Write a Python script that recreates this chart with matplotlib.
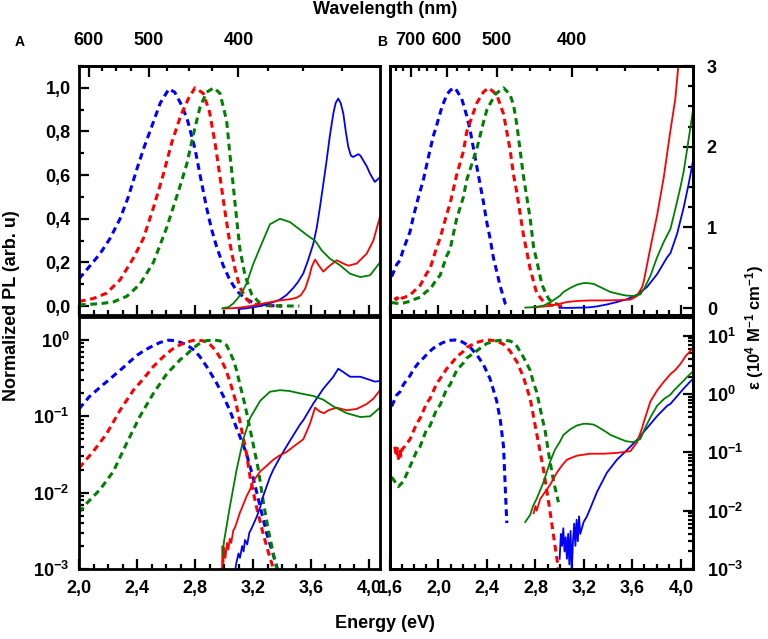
import numpy as np
import matplotlib
matplotlib.use("Agg")
import matplotlib.pyplot as plt
from matplotlib.ticker import MultipleLocator, FixedLocator, FuncFormatter, LogLocator, NullFormatter

# ---------------- data ----------------
# Panel A, PL (dashed, normalised) - used in linear and log panels
pl_a_blue_e = [2.00, 2.07, 2.145, 2.214, 2.283, 2.34, 2.40, 2.45, 2.50, 2.56, 2.62, 2.66, 2.70, 2.745,
               2.80, 2.835, 2.88, 2.915, 2.95, 2.995, 3.04, 3.087, 3.133, 3.16, 3.20, 3.25, 3.295, 3.36, 3.40]
pl_a_blue = [0.125, 0.18, 0.24, 0.31, 0.40, 0.50, 0.63, 0.73, 0.82, 0.93, 0.995, 0.98, 0.93, 0.86,
             0.72, 0.60, 0.45, 0.35, 0.27, 0.185, 0.12, 0.07, 0.042, 0.03, 0.016, 0.0065, 0.0029, 0.00115, 0.0006]

pl_a_red_e = [2.00, 2.10, 2.19, 2.283, 2.375, 2.444, 2.513, 2.58, 2.64, 2.70, 2.754, 2.80, 2.857, 2.90,
              2.94, 2.975, 3.01, 3.04, 3.076, 3.11, 3.156, 3.18, 3.225, 3.27, 3.317, 3.35, 3.40]
pl_a_red = [0.021, 0.035, 0.059, 0.12, 0.22, 0.31, 0.45, 0.60, 0.75, 0.87, 0.95, 1.0, 0.975, 0.89,
            0.74, 0.58, 0.42, 0.29, 0.17, 0.085, 0.032, 0.016, 0.0064, 0.0029, 0.0014, 0.0009, 0.0005]

pl_a_green_e = [2.00, 2.06, 2.145, 2.237, 2.33, 2.42, 2.513, 2.605, 2.697, 2.743, 2.79, 2.834, 2.88, 2.93,
                2.972, 3.018, 3.04, 3.064, 3.087, 3.11, 3.145, 3.19, 3.237, 3.27, 3.306, 3.34, 3.37, 3.42, 3.52]
pl_a_green = [0.0055, 0.0075, 0.011, 0.019, 0.045, 0.10, 0.20, 0.36, 0.55, 0.65, 0.79, 0.91, 0.98, 1.0,
              0.975, 0.85, 0.70, 0.55, 0.40, 0.26, 0.14, 0.055, 0.02, 0.0078, 0.0032, 0.0016, 0.0009, 0.0004, 0.0003]

# Panel A, absorption (solid), linear panel
abs_a_lin_blue_e = [3.10, 3.156, 3.25, 3.34, 3.386, 3.43, 3.478, 3.51, 3.547, 3.58, 3.616, 3.64, 3.662, 3.685,
                    3.708, 3.73, 3.754, 3.77, 3.788, 3.805, 3.823, 3.84, 3.857, 3.875, 3.89, 3.91, 3.926,
                    3.94, 3.96, 3.985, 4.007, 4.04, 4.076]
abs_a_lin_blue = [-0.014, -0.01, 0.0, 0.018, 0.03, 0.05, 0.083, 0.11, 0.15, 0.21, 0.286, 0.36, 0.454, 0.56,
                  0.668, 0.78, 0.882, 0.93, 0.951, 0.93, 0.882, 0.80, 0.73, 0.69, 0.683, 0.69, 0.696,
                  0.69, 0.668, 0.64, 0.607, 0.569, 0.59]

abs_a_lin_red_e = [2.99, 3.10, 3.20, 3.27, 3.386, 3.46, 3.50, 3.53, 3.56, 3.59, 3.605, 3.628, 3.65, 3.685,
                   3.72, 3.777, 3.823, 3.857, 3.915, 3.984, 4.03, 4.076]
abs_a_lin_red = [-0.012, -0.008, 0.002, 0.012, 0.026, 0.032, 0.038, 0.05, 0.08, 0.14, 0.18, 0.213, 0.19, 0.158,
                 0.18, 0.21, 0.195, 0.185, 0.195, 0.24, 0.30, 0.41]

abs_a_lin_green_e = [2.99, 3.03, 3.064, 3.10, 3.133, 3.156, 3.20, 3.25, 3.317, 3.386, 3.455, 3.524, 3.593,
                     3.628, 3.674, 3.731, 3.80, 3.87, 3.94, 4.007, 4.076]
abs_a_lin_green = [-0.01, -0.005, 0.012, 0.04, 0.075, 0.104, 0.19, 0.27, 0.375, 0.40, 0.385, 0.35, 0.315,
                   0.30, 0.255, 0.217, 0.187, 0.148, 0.133, 0.141, 0.20]

# Panel A, absorption (solid), log panel
abs_a_log_blue_e = [3.07, 3.085, 3.10, 3.11, 3.125, 3.135, 3.145, 3.16, 3.175, 3.19, 3.225, 3.25, 3.27, 3.317,
                    3.34, 3.386, 3.455, 3.524, 3.547, 3.616, 3.685, 3.754, 3.788, 3.823, 3.87, 3.94, 4.007,
                    4.04, 4.076]
abs_a_log_blue = [0.0008, 0.0012, 0.0016, 0.0014, 0.002, 0.0017, 0.0024, 0.0021, 0.003, 0.0034, 0.0048, 0.0065,
                  0.009, 0.016, 0.02, 0.029, 0.048, 0.078, 0.089, 0.147, 0.23, 0.33, 0.42, 0.38, 0.33, 0.33,
                  0.30, 0.285, 0.29]

abs_a_log_red_e = [2.985, 2.99, 2.995, 3.00, 3.01, 3.02, 3.03, 3.04, 3.05, 3.064, 3.076, 3.09, 3.11, 3.122,
                   3.156, 3.18, 3.20, 3.25, 3.30, 3.34, 3.386, 3.43, 3.478, 3.547, 3.593, 3.628, 3.662,
                   3.69, 3.72, 3.777, 3.846, 3.915, 3.984, 4.03, 4.076]
abs_a_log_red = [0.0008, 0.002, 0.0012, 0.0019, 0.0014, 0.0022, 0.0018, 0.0025, 0.0022, 0.0032, 0.0035, 0.0042,
                 0.0055, 0.0062, 0.009, 0.011, 0.014, 0.019, 0.023, 0.027, 0.031, 0.034, 0.040, 0.05, 0.08,
                 0.13, 0.115, 0.11, 0.12, 0.13, 0.12, 0.125, 0.145, 0.17, 0.22]

abs_a_log_green_e = [2.99, 3.00, 3.04, 3.087, 3.133, 3.18, 3.25, 3.317, 3.386, 3.45, 3.524, 3.616, 3.685,
                     3.754, 3.846, 3.94, 4.007, 4.076]
abs_a_log_green = [0.0015, 0.0023, 0.0065, 0.02, 0.05, 0.095, 0.16, 0.21, 0.22, 0.215, 0.20, 0.185, 0.165,
                   0.135, 0.11, 0.098, 0.10, 0.13]

# Panel B, PL (dashed, normalised)
pl_b_blue_e = [1.614, 1.655, 1.683, 1.71, 1.765, 1.793, 1.835, 1.876, 1.92, 1.958, 1.986, 2.027, 2.07, 2.10,
               2.137, 2.192, 2.234, 2.26, 2.316, 2.37, 2.40, 2.426, 2.454, 2.48, 2.51, 2.537, 2.55, 2.564]
pl_b_blue = [0.135, 0.19, 0.21, 0.26, 0.34, 0.41, 0.50, 0.58, 0.69, 0.78, 0.83, 0.91, 0.97, 0.99,
             1.0, 0.95, 0.87, 0.81, 0.64, 0.48, 0.38, 0.31, 0.22, 0.16, 0.09, 0.04, 0.013, 0.004]

pl_b_red_e = [1.64, 1.65, 1.66, 1.67, 1.683, 1.69, 1.70, 1.72, 1.765, 1.82, 1.85, 1.903, 1.93, 1.986, 2.013,
              2.068, 2.096, 2.15, 2.206, 2.234, 2.316, 2.37, 2.413, 2.48, 2.537, 2.59, 2.62, 2.647, 2.70,
              2.757, 2.81, 2.867, 2.92, 2.96, 2.99, 3.02]
pl_b_red = [0.04, 0.03, 0.038, 0.028, 0.035, 0.03, 0.037, 0.040, 0.05, 0.08, 0.095, 0.15, 0.17, 0.27, 0.31,
            0.42, 0.47, 0.60, 0.71, 0.80, 0.93, 0.98, 1.0, 0.97, 0.88, 0.72, 0.60, 0.52, 0.33,
            0.17, 0.06, 0.02, 0.0058, 0.0021, 0.001, 0.0004]

pl_b_green_e = [1.614, 1.669, 1.71, 1.765, 1.82, 1.848, 1.903, 1.93, 1.986, 2.013, 2.068, 2.096, 2.15, 2.206,
                2.234, 2.316, 2.37, 2.40, 2.468, 2.537, 2.59, 2.62, 2.647, 2.70, 2.757, 2.785, 2.81, 2.853,
                2.88, 2.91, 2.95, 2.99]
pl_b_green = [0.016, 0.012, 0.014, 0.022, 0.035, 0.040, 0.068, 0.075, 0.125, 0.14, 0.23, 0.26, 0.40, 0.50,
              0.58, 0.72, 0.84, 0.90, 0.97, 1.0, 0.97, 0.92, 0.83, 0.60, 0.40, 0.27, 0.21, 0.10,
              0.065, 0.032, 0.014, 0.0075]

# Panel B, molar absorption coefficient (solid, 10^4 M^-1 cm^-1)
eps_b_blue_e = [3.00, 3.01, 3.02, 3.03, 3.04, 3.05, 3.06, 3.07, 3.08, 3.09, 3.10, 3.11, 3.12, 3.13, 3.14,
                3.15, 3.16, 3.17, 3.198, 3.225, 3.253, 3.308, 3.39, 3.473, 3.556, 3.639, 3.72, 3.804,
                3.887, 3.914, 3.969, 4.024, 4.066, 4.10]
eps_b_blue = [0.0015, 0.004, 0.0025, 0.005, 0.002, 0.0035, 0.0015, 0.004, 0.0012, 0.0045, 0.0009, 0.003,
              0.006, 0.0025, 0.007, 0.003, 0.008, 0.004, 0.0064, 0.008, 0.011, 0.021, 0.045, 0.075, 0.11,
              0.165, 0.26, 0.42, 0.63, 0.68, 0.92, 1.25, 1.55, 1.82]

eps_b_red_e = [2.785, 2.80, 2.81, 2.84, 2.88, 2.922, 2.977, 3.02, 3.06, 3.143, 3.253, 3.363, 3.47, 3.584,
               3.639, 3.68, 3.694, 3.749, 3.804, 3.859, 3.914, 3.955, 3.997, 4.04, 4.08, 4.10]
eps_b_red = [0.009, 0.012, 0.010, 0.016, 0.021, 0.028, 0.045, 0.06, 0.075, 0.088, 0.095, 0.095, 0.098, 0.105,
             0.15, 0.26, 0.33, 0.75, 1.15, 1.62, 2.2, 2.6, 3.3, 4.5, 5.5, 6.3]

eps_b_green_e = [2.716, 2.757, 2.78, 2.81, 2.867, 2.922, 2.96, 3.00, 3.032, 3.088, 3.143, 3.198, 3.225, 3.28,
                 3.308, 3.39, 3.418, 3.50, 3.55, 3.61, 3.666, 3.70, 3.749, 3.804, 3.859, 3.914, 3.942,
                 3.997, 4.024, 4.05, 4.10]
eps_b_green = [0.0064, 0.0085, 0.012, 0.016, 0.031, 0.07, 0.11, 0.15, 0.20, 0.25, 0.29, 0.31, 0.31, 0.30,
               0.28, 0.22, 0.20, 0.17, 0.155, 0.15, 0.17, 0.25, 0.40, 0.63, 0.82, 0.98, 1.15,
               1.50, 1.70, 1.95, 2.45]

wl_major_a = [600, 500, 400]
wl_major_b = [700, 600, 500, 400]
wl_minor = [775, 750, 725, 675, 650, 625, 575, 550, 525, 475, 450, 425, 375, 350, 325]

# ---------------- style ----------------
plt.rcParams['font.family'] = ['Liberation Sans', 'DejaVu Sans']
plt.rcParams['font.weight'] = 'bold'
plt.rcParams['mathtext.fontset'] = 'custom'
plt.rcParams['mathtext.rm'] = 'Liberation Sans:bold'
plt.rcParams['mathtext.it'] = 'Liberation Sans:bold'
plt.rcParams['mathtext.bf'] = 'Liberation Sans:bold'

BLUE, RED, GREEN = '#0000ff', '#ff0000', '#008000'
fs = 13
lw_frame = 2.0
dash_kw = dict(lw=2.2, dashes=(2.2, 1.5))
solid_kw = dict(lw=1.3)


def ev_to_nm(e):
    e = np.asarray(e, dtype=float)
    with np.errstate(divide='ignore', invalid='ignore'):
        return 1239.84 / e


def comma(v, pos):
    return f"{v:.1f}".replace('.', ',')


def power(v, pos):
    if v <= 0:
        return ''
    ex = int(round(np.log10(v)))
    return rf"$\mathbf{{10^{{{ex}}}}}$"


def style_frame(ax):
    for s in ax.spines.values():
        s.set_linewidth(lw_frame)
    ax.tick_params(which='both', direction='in', width=1.6, labelsize=fs)
    ax.tick_params(which='major', length=7.5)
    ax.tick_params(which='minor', length=3.5)


fig = plt.figure(figsize=(7.68, 6.39), dpi=100)
ax_a = fig.add_axes([0.1029, 0.5070, 0.3919, 0.3897])
ax_b = fig.add_axes([0.5078, 0.5070, 0.3945, 0.3897])
ax_c = fig.add_axes([0.1029, 0.1095, 0.3919, 0.3944])
ax_d = fig.add_axes([0.5078, 0.1095, 0.3945, 0.3944])
ax_b2 = ax_b.twinx()
ax_d2 = ax_d.twinx()

# ---- A, linear ----
ax_a.plot(pl_a_blue_e, pl_a_blue, color=BLUE, **dash_kw)
ax_a.plot(pl_a_red_e, pl_a_red, color=RED, **dash_kw)
ax_a.plot(pl_a_green_e, pl_a_green, color=GREEN, **dash_kw)
ax_a.plot(abs_a_lin_blue_e, abs_a_lin_blue, color=BLUE, **solid_kw)
ax_a.plot(abs_a_lin_red_e, abs_a_lin_red, color=RED, **solid_kw)
ax_a.plot(abs_a_lin_green_e, abs_a_lin_green, color=GREEN, **solid_kw)
ax_a.set_xlim(2.0, 4.076)
ax_a.set_ylim(-0.041, 1.10)

# ---- A, log ----
ax_c.plot(pl_a_blue_e, pl_a_blue, color=BLUE, **dash_kw)
ax_c.plot(pl_a_red_e, pl_a_red, color=RED, **dash_kw)
ax_c.plot(pl_a_green_e, pl_a_green, color=GREEN, **dash_kw)
ax_c.plot(abs_a_log_blue_e, abs_a_log_blue, color=BLUE, **solid_kw)
ax_c.plot(abs_a_log_red_e, abs_a_log_red, color=RED, **solid_kw)
ax_c.plot(abs_a_log_green_e, abs_a_log_green, color=GREEN, **solid_kw)
ax_c.set_yscale('log')
ax_c.set_xlim(2.0, 4.076)
ax_c.set_ylim(1e-3, 2.0)

# ---- B, linear ----
ax_b.plot(pl_b_blue_e, pl_b_blue, color=BLUE, **dash_kw)
ax_b.plot(pl_b_red_e, pl_b_red, color=RED, **dash_kw)
ax_b.plot(pl_b_green_e, pl_b_green, color=GREEN, **dash_kw)
ax_b2.plot(eps_b_blue_e, eps_b_blue, color=BLUE, **solid_kw)
ax_b2.plot(eps_b_red_e, eps_b_red, color=RED, **solid_kw)
ax_b2.plot(eps_b_green_e, eps_b_green, color=GREEN, **solid_kw)
ax_b.set_xlim(1.6, 4.1)
ax_b.set_ylim(-0.041, 1.10)
ax_b2.set_ylim(-0.086, 3.0)

# ---- B, log ----
ax_d.plot(pl_b_blue_e, pl_b_blue, color=BLUE, **dash_kw)
ax_d.plot(pl_b_red_e, pl_b_red, color=RED, **dash_kw)
ax_d.plot(pl_b_green_e, pl_b_green, color=GREEN, **dash_kw)
ax_d2.plot(eps_b_blue_e, eps_b_blue, color=BLUE, **solid_kw)
ax_d2.plot(eps_b_red_e, eps_b_red, color=RED, **solid_kw)
ax_d2.plot(eps_b_green_e, eps_b_green, color=GREEN, **solid_kw)
ax_d.set_yscale('log')
ax_d2.set_yscale('log')
ax_d.set_xlim(1.6, 4.1)
ax_d.set_ylim(1e-3, 2.0)
ax_d2.set_ylim(1e-3, 21)

# ---- ticks ----
for ax in (ax_a, ax_b, ax_c, ax_d, ax_b2, ax_d2):
    style_frame(ax)

for ax in (ax_a, ax_b, ax_c, ax_d):
    ax.xaxis.set_major_locator(MultipleLocator(0.4))
    ax.xaxis.set_minor_locator(MultipleLocator(0.1))
    ax.xaxis.set_major_formatter(FuncFormatter(comma))
    ax.tick_params(axis='x', which='both', top=False, pad=8)

for ax in (ax_a, ax_b):
    ax.tick_params(axis='x', labelbottom=False)

ax_a.yaxis.set_major_locator(MultipleLocator(0.2))
ax_a.yaxis.set_minor_locator(MultipleLocator(0.1))
ax_a.yaxis.set_major_formatter(FuncFormatter(comma))
ax_a.tick_params(axis='y', which='both', right=False, pad=6)

for ax in (ax_c, ax_d, ax_d2):
    ax.yaxis.set_major_locator(LogLocator(base=10, numticks=10))
    ax.yaxis.set_minor_locator(LogLocator(base=10, subs=np.arange(2, 10), numticks=10))
    ax.yaxis.set_major_formatter(FuncFormatter(power))
    ax.yaxis.set_minor_formatter(NullFormatter())
ax_c.tick_params(axis='y', which='both', right=False, pad=7)

for ax in (ax_b, ax_d):
    ax.tick_params(axis='y', which='both', left=False, right=False, labelleft=False)

ax_b2.yaxis.set_major_locator(MultipleLocator(1))
ax_b2.yaxis.set_minor_locator(MultipleLocator(0.25))
ax_b2.yaxis.set_major_formatter(FuncFormatter(lambda v, p: f"{v:.0f}"))
ax_b2.tick_params(axis='y', which='both', left=False, right=True, pad=10)
ax_d2.tick_params(axis='y', which='both', left=False, right=True, pad=10)

# wavelength axes on top
for ax, majors in ((ax_a, wl_major_a), (ax_b, wl_major_b)):
    sec = ax.secondary_xaxis('top', functions=(ev_to_nm, ev_to_nm))
    sec.xaxis.set_major_locator(FixedLocator(majors))
    sec.xaxis.set_minor_locator(FixedLocator(wl_minor))
    sec.xaxis.set_major_formatter(FuncFormatter(lambda v, p: f"{v:.0f}"))
    sec.spines['top'].set_linewidth(lw_frame)
    sec.tick_params(which='both', direction='in', width=1.6, labelsize=fs, pad=12)
    sec.tick_params(which='major', length=8)
    sec.tick_params(which='minor', length=3.5)

# ---- labels ----
fig.text(385 / 768, 1 - 10 / 639, 'Wavelength (nm)', ha='center', va='center', fontsize=fs, weight='bold')
fig.text(385 / 768, 1 - 624 / 639, 'Energy (eV)', ha='center', va='center', fontsize=fs, weight='bold')
fig.text(20 / 768, 1 - 42 / 639, 'A', ha='center', va='center', fontsize=10, weight='bold')
fig.text(382 / 768, 1 - 42 / 639, 'B', ha='center', va='center', fontsize=10, weight='bold')
fig.text(12 / 768, 1 - 306 / 639, 'Normalized PL (arb. u)', rotation=90, ha='center', va='center',
         fontsize=fs, weight='bold')
fig.text(755 / 768, 1 - 327 / 639, r'ε (10$^{4}$ M$^{-1}$ cm$^{-1}$)', rotation=90, ha='center',
         va='center', fontsize=12, weight='bold')

fig.savefig('out.png', dpi=100)
